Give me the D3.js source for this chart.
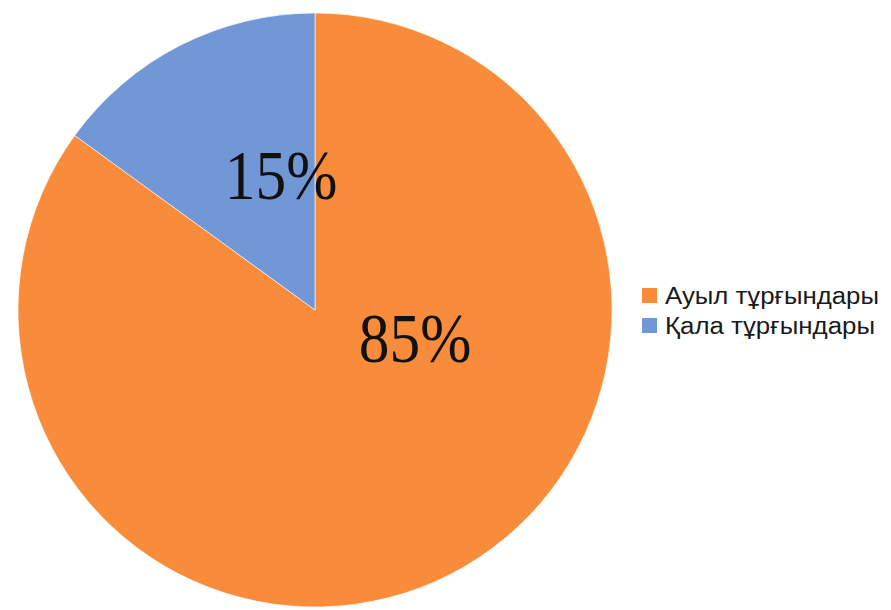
<!DOCTYPE html>
<html>
<head>
<meta charset="utf-8">
<script src="https://cdn.jsdelivr.net/npm/d3@7/dist/d3.min.js"></script>
<style>
  html, body { margin: 0; padding: 0; background: #fff; }
  svg { display: block; }
</style>
</head>
<body>
<svg id="chart" width="891" height="610"></svg>
<script>
// Population share by residence
const categories = ["Ауыл тұрғындары", "Қала тұрғындары"];
const shares = [85, 15];
const sliceColors = ["#F88C3B", "#7297D7"];

const width = 891, height = 610;
const cx = 315, cy = 310, radius = 297;

const svg = d3.select("#chart");

const data = categories.map((name, i) => ({ name, value: shares[i], color: sliceColors[i] }));

const pie = d3.pie().value(d => d.value).sort(null).startAngle(0).endAngle(2 * Math.PI);
const arc = d3.arc().innerRadius(0).outerRadius(radius);

const g = svg.append("g").attr("transform", `translate(${cx},${cy})`);
const arcs = pie(data);

g.selectAll("path.slice")
  .data(arcs)
  .join("path")
  .attr("class", "slice")
  .attr("d", arc)
  .attr("fill", d => d.data.color)
  .attr("stroke", "#fff")
  .attr("stroke-width", 0.6);

// Value labels, set inside each slice
const labelOffsets = [[100, 52], [-34, -111]];
const fmt = v => `${v}%`;
g.selectAll("text.value")
  .data(arcs)
  .join("text")
  .attr("class", "value")
  .attr("transform", (d, i) => `translate(${labelOffsets[i][0]},${labelOffsets[i][1]}) scale(0.89,1)`)
  .attr("text-anchor", "middle")
  .attr("font-family", "'Liberation Serif', 'Times New Roman', serif")
  .attr("font-size", 69)
  .attr("fill", "#111")
  .text(d => fmt(d.data.value));

// Legend
const legend = svg.append("g").attr("transform", "translate(642,288)");
const rows = legend.selectAll("g.row")
  .data(data)
  .join("g")
  .attr("class", "row")
  .attr("transform", (d, i) => `translate(0,${i * 30})`);
rows.append("rect")
  .attr("width", 15).attr("height", 15)
  .attr("fill", d => d.color);
rows.append("text")
  .attr("x", 23).attr("y", 16)
  .attr("font-family", "'Liberation Sans', Arial, sans-serif")
  .attr("font-size", 23)
  .attr("textLength", (d, i) => i === 0 ? 214 : 210)
  .attr("lengthAdjust", "spacingAndGlyphs")
  .attr("fill", "#1a1a1a")
  .text(d => d.name);
</script>
</body>
</html>
